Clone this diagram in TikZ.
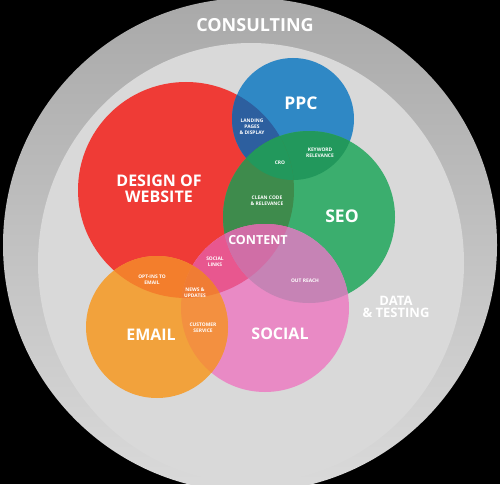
\documentclass[tikz,border=0pt]{standalone}
\usepackage{fontspec}
\setmainfont{Open Sans}
\begin{document}
\begin{tikzpicture}[x=1pt,y=-1pt,
  big/.style={font=\fontsize{16}{16}\selectfont\bfseries, text=white, align=center, inner sep=0pt},
  mid/.style={font=\fontsize{12.5}{12.5}\selectfont\bfseries, text=white, align=center, inner sep=0pt},
  tiny/.style={font=\fontsize{4.9}{5.8}\selectfont\bfseries, text=white, align=center, inner sep=0pt}]
\definecolor{cred}{HTML}{EF3B36}
\definecolor{cblue}{HTML}{2F88C5}
\definecolor{cgreen}{HTML}{3BAE6E}
\definecolor{cpink}{HTML}{E98AC5}
\definecolor{corange}{HTML}{F2A23C}
\definecolor{rb}{HTML}{2D5F9F}
\definecolor{bg}{HTML}{22985C}
\definecolor{rg}{HTML}{3E8B4C}
\definecolor{rp}{HTML}{E8578F}
\definecolor{gp}{HTML}{C683B5}
\definecolor{rgp}{HTML}{D06EA6}
\definecolor{orr}{HTML}{F37E2C}
\definecolor{op}{HTML}{F39040}
\definecolor{orp}{HTML}{F07C34}
\definecolor{ringtop}{HTML}{A9A9A9}
\definecolor{ringmid}{HTML}{C6C6C6}
\definecolor{ringbot}{HTML}{DADADA}
\definecolor{inner}{HTML}{D9D9D9}
\useasboundingbox (0,0) rectangle (500,484);
\fill[black] (0,0) rectangle (500,484);
\begin{scope}
\clip (0,0) rectangle (500,484);
\shade[top color=ringtop, middle color=ringmid, bottom color=ringbot] (250,245) circle (247);
\fill[inner] (251,263) ellipse [x radius=213, y radius=220];
\end{scope}
% main circles
\def\cR{(186,190) circle (108)}
\def\cB{(293,119) circle (61)}
\def\cG{(309,217) circle (86)}
\def\cP{(265,308) circle (84)}
\def\cO{(157,327) circle (71)}
\fill[cred] \cR;
\fill[cblue] \cB;
\fill[cgreen] \cG;
\fill[cpink] \cP;
\fill[corange] \cO;
% overlaps
\begin{scope}\clip \cR; \fill[rb] \cB; \end{scope}
\begin{scope}\clip \cB; \fill[bg] \cG; \end{scope}
\begin{scope}\clip \cR; \fill[rg] \cG; \end{scope}
\begin{scope}\clip \cR; \clip \cB; \fill[bg] \cG; \end{scope}
\begin{scope}\clip \cR; \fill[rp] \cP; \end{scope}
\begin{scope}\clip \cG; \fill[gp] \cP; \end{scope}
\begin{scope}\clip \cR; \clip \cG; \fill[rgp] \cP; \end{scope}
\begin{scope}\clip \cO; \fill[orr] \cR; \end{scope}
\begin{scope}\clip \cO; \fill[op] \cP; \end{scope}
\begin{scope}\clip \cO; \clip \cR; \fill[orp] \cP; \end{scope}
% labels
\node[font=\fontsize{18}{18}\selectfont\bfseries, text=white, inner sep=0pt] (consulting) at (255,25) {CONSULTING};
\node[font=\fontsize{17.5}{17.5}\selectfont\bfseries, text=white, inner sep=0pt] (ppc) at (301,103) {PPC};
\node[tiny] (landing) at (252,127) {LANDING\\PAGES\\\& DISPLAY};
\node[tiny] (keyword) at (320,153) {KEYWORD\\RELEVANCE};
\node[tiny] (cro) at (280,163) {CRO};
\node[big] (design) at (159,188.5) {DESIGN OF\\WEBSITE};
\node[tiny] (clean) at (267,201) {CLEAN CODE\\\& RELEVANCE};
\node[font=\fontsize{17.5}{17.5}\selectfont\bfseries, text=white, inner sep=0pt] (seo) at (342,216) {SEO};
\node[mid] (content) at (258,240) {CONTENT};
\node[tiny] (sociallinks) at (215,262) {SOCIAL\\LINKS};
\node[tiny] (outreach) at (305,281) {OUT REACH};
\node[tiny] (optins) at (152,280) {OPT-INS TO\\EMAIL};
\node[tiny] (news) at (195,293) {NEWS \&\\UPDATES};
\node[tiny] (customer) at (203,328) {CUSTOMER\\SERVICE};
\node[big] (email) at (151,335) {EMAIL};
\node[big] (social) at (280,334) {SOCIAL};
\node[font=\fontsize{13}{12.5}\selectfont\bfseries, text=white, align=center, inner sep=0pt] (data) at (396,307) {DATA\\\& TESTING};
\end{tikzpicture}
\end{document}
